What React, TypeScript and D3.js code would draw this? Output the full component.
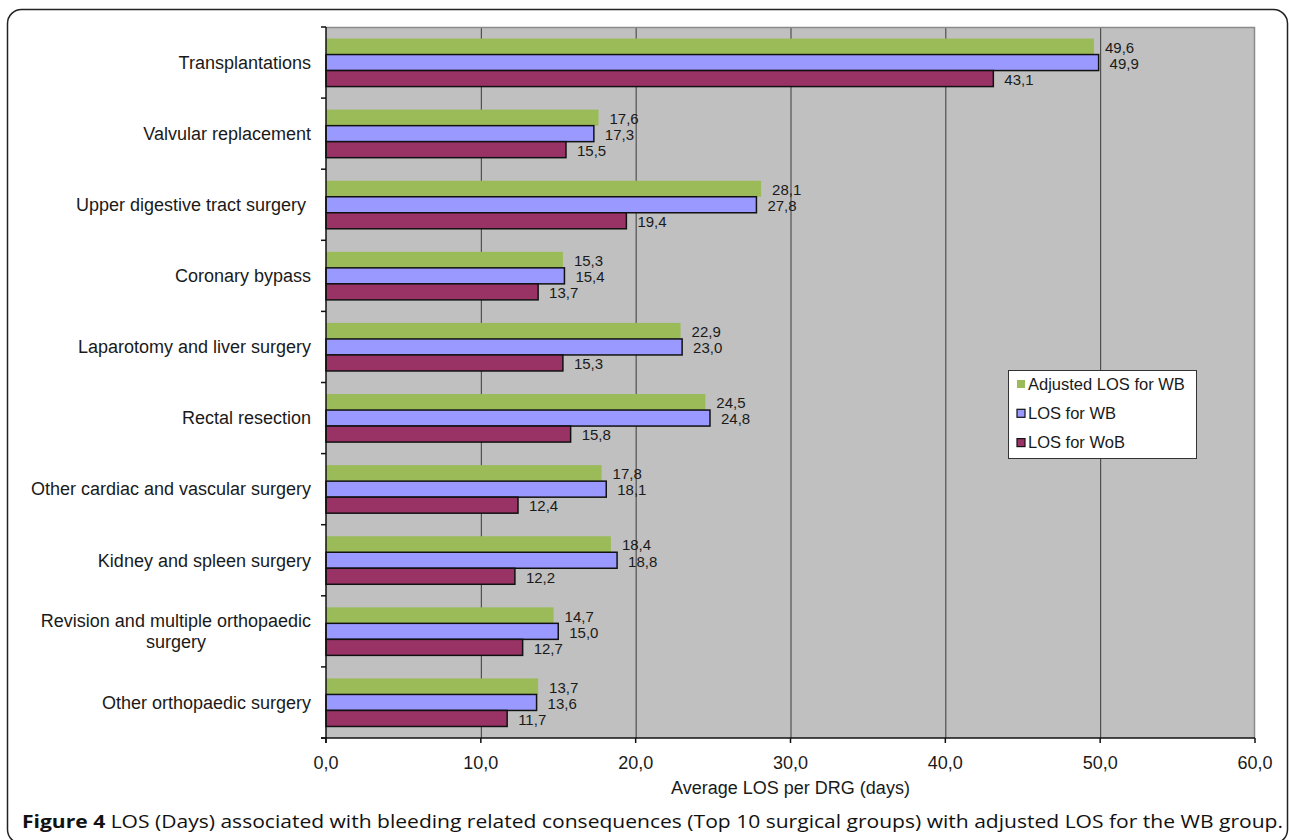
import React, { useEffect, useRef } from "react";
import * as d3 from "d3";

// Surgical groups, top to bottom
const categories: string[][] = [
  ["Transplantations"],
  ["Valvular replacement"],
  ["Upper digestive tract surgery "],
  ["Coronary bypass"],
  ["Laparotomy and liver surgery"],
  ["Rectal resection"],
  ["Other cardiac and vascular surgery"],
  ["Kidney and spleen surgery"],
  ["Revision and multiple orthopaedic", "surgery"],
  ["Other orthopaedic surgery"],
];

const seriesNames = ["Adjusted LOS for WB", "LOS for WB", "LOS for WoB"];

const adjustedWB = [49.6, 17.6, 28.1, 15.3, 22.9, 24.5, 17.8, 18.4, 14.7, 13.7];
const losWB = [49.9, 17.3, 27.8, 15.4, 23.0, 24.8, 18.1, 18.8, 15.0, 13.6];
const losWoB = [43.1, 15.5, 19.4, 13.7, 15.3, 15.8, 12.4, 12.2, 12.7, 11.7];

const xTicks = [0, 10, 20, 30, 40, 50, 60];

const seriesFill = ["#9BBB59", "#9999FF", "#993366"];
const seriesStroke = [null, "#111", "#111"];

const W = 1289;
const H = 840;
const FONT = "'Liberation Sans', Arial, sans-serif";

export default function App() {
  const ref = useRef<SVGSVGElement>(null);

  useEffect(() => {
    const svg = d3.select(ref.current);
    svg.selectAll("*").remove();

    const locale = d3.formatLocale({ decimal: ",", thousands: ".", grouping: [3], currency: ["", ""] });
    const fmt = locale.format(".1f");

    const left = 326;
    const right = 1255;
    const top = 27;
    const bottom = 738;

    // Figure frame
    svg.append("rect")
      .attr("x", 7.5).attr("y", 9.5)
      .attr("width", 1280).attr("height", 834)
      .attr("rx", 14)
      .attr("fill", "#fff").attr("stroke", "#222").attr("stroke-width", 1.5);

    const x = d3.scaleLinear().domain([0, 60]).range([left, right]);
    const keys = categories.map((_, i) => String(i));
    const y = d3.scaleBand<string>().domain(keys).range([top, bottom]).paddingInner(0).paddingOuter(0);
    const ySub = d3.scaleBand<string>()
      .domain(seriesNames)
      .range([0, y.bandwidth()])
      .paddingInner(0)
      .paddingOuter(0.72);

    // Plot area
    svg.append("rect")
      .attr("x", left).attr("y", top)
      .attr("width", right - left).attr("height", bottom - top)
      .attr("fill", "#C0C0C0");

    // Vertical gridlines
    svg.append("g")
      .selectAll("line")
      .data(xTicks.filter((t) => t > 0 && t < 60))
      .join("line")
      .attr("x1", (d) => x(d) + 0.5).attr("x2", (d) => x(d) + 0.5)
      .attr("y1", top).attr("y2", bottom)
      .attr("stroke", "#3a3a3a").attr("stroke-width", 1);

    // Plot border (top and right)
    svg.append("path")
      .attr("d", `M${left},${top + 0.5}H${right - 0.5}V${bottom}`)
      .attr("fill", "none").attr("stroke", "#8a8a8a").attr("stroke-width", 1.5);

    // Bars with value labels
    const series = [adjustedWB, losWB, losWoB];
    series.forEach((vals, si) => {
      const g = svg.append("g");
      g.selectAll("rect")
        .data(vals)
        .join("rect")
        .attr("x", x(0))
        .attr("y", (_, i) => (y(keys[i]) as number) + (ySub(seriesNames[si]) as number))
        .attr("width", (d) => x(d) - x(0))
        .attr("height", ySub.bandwidth())
        .attr("fill", seriesFill[si])
        .attr("stroke", seriesStroke[si] ?? "none")
        .attr("stroke-width", seriesStroke[si] ? 1.5 : 0);

      g.selectAll("text")
        .data(vals)
        .join("text")
        .attr("x", (d) => x(d) + 11)
        .attr("y", (_, i) => (y(keys[i]) as number) + (ySub(seriesNames[si]) as number) + ySub.bandwidth() / 2 + 1)
        .attr("dy", "0.35em")
        .attr("font-family", FONT)
        .attr("font-size", 15)
        .attr("fill", "#1a1a1a")
        .text((d) => fmt(d));
    });

    // Left axis
    svg.append("line")
      .attr("x1", left).attr("x2", left).attr("y1", top).attr("y2", bottom + 5)
      .attr("stroke", "#111").attr("stroke-width", 1.5);
    const boundaries = keys.map((k) => y(k) as number).concat([bottom]);
    svg.append("g")
      .selectAll("line")
      .data(boundaries)
      .join("line")
      .attr("x1", left - 5).attr("x2", left)
      .attr("y1", (d) => d).attr("y2", (d) => d)
      .attr("stroke", "#111").attr("stroke-width", 1.5);

    // Bottom axis
    svg.append("line")
      .attr("x1", left - 5).attr("x2", right).attr("y1", bottom).attr("y2", bottom)
      .attr("stroke", "#111").attr("stroke-width", 1.5);
    svg.append("g")
      .selectAll("line")
      .data(xTicks)
      .join("line")
      .attr("x1", (d) => x(d)).attr("x2", (d) => x(d))
      .attr("y1", bottom).attr("y2", bottom + 5)
      .attr("stroke", "#111").attr("stroke-width", 1.5);
    svg.append("g")
      .selectAll("text")
      .data(xTicks)
      .join("text")
      .attr("x", (d) => x(d))
      .attr("y", 769)
      .attr("text-anchor", "middle")
      .attr("font-family", FONT)
      .attr("font-size", 18)
      .attr("fill", "#1a1a1a")
      .text((d) => fmt(d));

    svg.append("text")
      .attr("x", (left + right) / 2)
      .attr("y", 794)
      .attr("text-anchor", "middle")
      .attr("font-family", FONT)
      .attr("font-size", 18)
      .attr("fill", "#1a1a1a")
      .text("Average LOS per DRG (days)");

    // Category labels: block right-aligned, lines centered within the block
    const catG = svg.append("g");
    categories.forEach((lines, i) => {
      const cy = (y(keys[i]) as number) + y.bandwidth() / 2;
      const t = catG.append("text")
        .attr("font-family", FONT)
        .attr("font-size", 18)
        .attr("fill", "#1a1a1a")
        .attr("text-anchor", "middle")
        .style("white-space", "pre");
      const spans = lines.map((line, li) =>
        t.append("tspan")
          .attr("y", cy + (li - (lines.length - 1) / 2) * 21)
          .attr("dy", "0.35em")
          .style("white-space", "pre")
          .text(line)
      );
      const widths = spans.map((s) => (s.node() as SVGTSpanElement).getComputedTextLength());
      const maxW = Math.max(...widths);
      spans.forEach((s) => s.attr("x", 311 - maxW / 2));
    });

    // Legend
    const lg = svg.append("g").attr("transform", "translate(1008.5,370.5)");
    lg.append("rect")
      .attr("width", 188).attr("height", 88)
      .attr("fill", "#fff").attr("stroke", "#333").attr("stroke-width", 1);
    seriesNames.forEach((name, i) => {
      const cy = 13.5 + i * 29.3;
      lg.append("rect")
        .attr("x", 8.5).attr("y", cy - 4)
        .attr("width", 8).attr("height", 8)
        .attr("fill", seriesFill[i])
        .attr("stroke", seriesStroke[i] ?? "none")
        .attr("stroke-width", seriesStroke[i] ? 1.2 : 0);
      lg.append("text")
        .attr("x", 19.5).attr("y", cy)
        .attr("dy", "0.35em")
        .attr("font-family", FONT)
        .attr("font-size", 16.5)
        .attr("fill", "#1a1a1a")
        .text(name);
    });

    // Caption
    const cap = svg.append("text")
      .attr("x", 22)
      .attr("y", 828)
      .attr("font-family", "'Open Sans', 'Noto Sans', sans-serif")
      .attr("font-size", 18.5)
      .attr("fill", "#111")
      .attr("textLength", 1261)
      .attr("lengthAdjust", "spacingAndGlyphs");
    cap.append("tspan").attr("font-weight", "bold").text("Figure 4");
    cap.append("tspan").text(" LOS (Days) associated with bleeding related consequences (Top 10 surgical groups) with adjusted LOS for the WB group.");
  }, []);

  return (
    <svg
      ref={ref}
      width={W}
      height={H}
      style={{ position: "absolute", left: 0, top: 0, display: "block", background: "#fff" }}
    />
  );
}
